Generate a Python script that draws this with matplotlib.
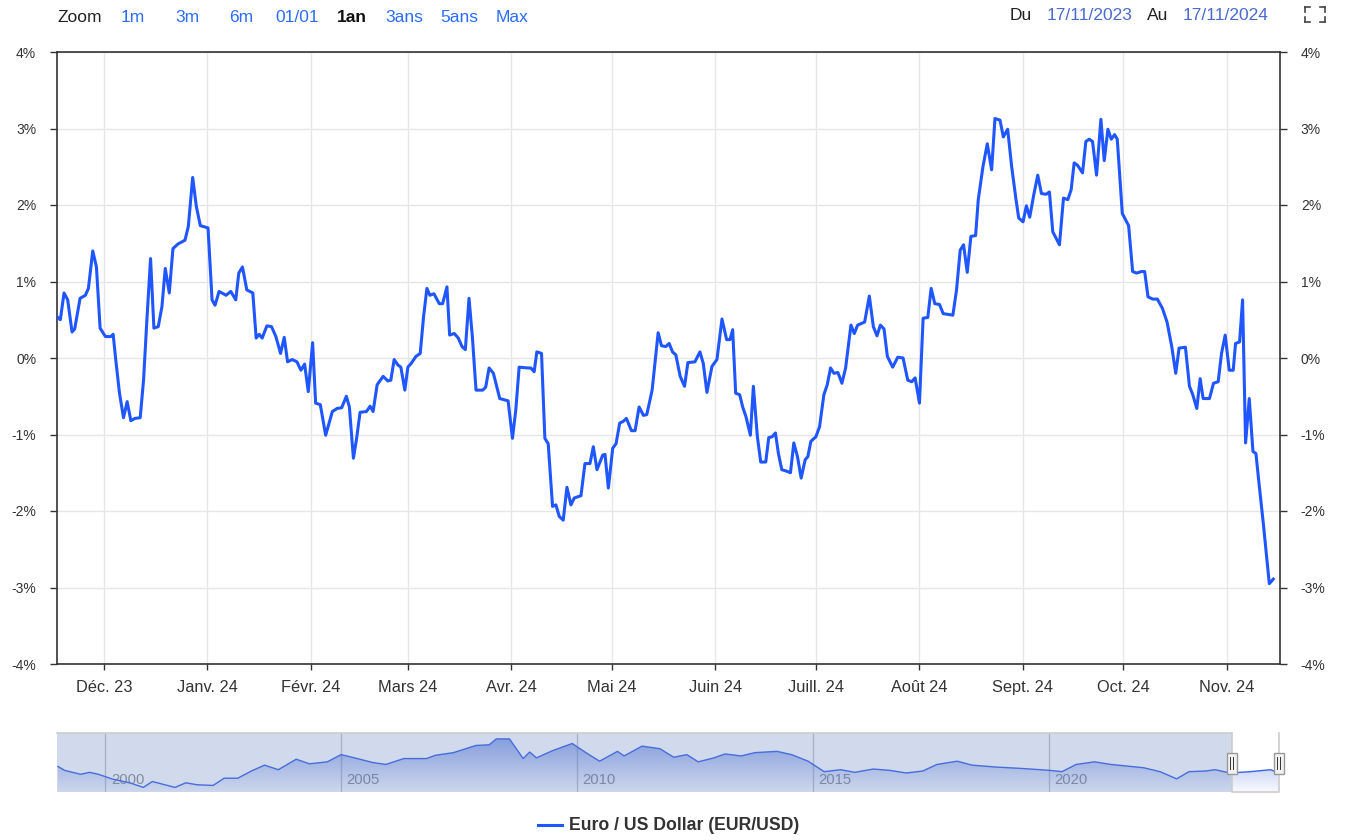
import numpy as np
import pandas as pd
import matplotlib
matplotlib.use("Agg")
import matplotlib.pyplot as plt
from matplotlib.lines import Line2D
from matplotlib.patches import Rectangle

plt.rcParams['font.family'] = ['Liberation Sans', 'DejaVu Sans']

# ---------------- data ----------------
START = "2023-11-17"
END = "2024-11-17"

# days since START, and % change of EUR/USD
days = [0.0, 1.0, 2.1, 3.2, 4.5, 5.3, 6.9, 8.5, 9.4, 10.7, 11.8, 12.9,
        14.5, 16.1, 16.8, 17.6, 18.7, 19.9, 21.0, 22.1, 23.3, 24.9, 25.9, 26.9,
        28.0, 29.0, 30.3, 31.4, 32.4, 33.6, 34.7, 36.2, 38.3, 39.3, 40.6, 41.7, 42.9,
        45.2, 46.4, 47.3, 48.5, 50.6, 52.0, 53.5, 54.4, 55.5, 56.8, 58.6, 59.6,
        60.5, 61.4, 62.8, 64.2, 65.5, 66.9, 68.0, 69.0, 70.4, 71.8, 73.0, 74.1, 75.2,
        76.5, 77.4, 78.8, 80.4, 82.4, 83.8, 85.2, 86.6, 87.5, 88.7, 89.6, 90.7,
        92.6, 93.7, 94.6, 95.8, 97.6, 99.0, 99.9, 100.9, 102.0, 102.9, 104.1,
        105.0, 106.0, 107.4, 108.7, 109.7, 110.7, 111.6, 112.8, 114.4, 115.4,
        116.7, 117.5, 118.9, 120.1, 121.2, 122.2, 123.3, 124.3, 125.4, 127.4,
        128.3, 129.3, 130.6, 132.5, 134.2, 135.0,
        136.3, 137.3, 138.3, 140.8, 141.8, 142.8, 143.6, 145.0, 146.0, 147.0,
        148.3, 149.3, 150.3, 151.5, 152.6, 153.8, 154.8, 156.8, 158.0, 159.5,
        160.5, 161.6, 163.3, 164.0, 165.0,
        166.3, 167.3, 168.4, 169.4, 170.4, 171.9, 173.0, 174.2, 175.5, 176.5,
        178.1, 179.9, 180.9, 182.2, 183.2, 184.2, 185.2, 186.5, 187.8, 188.8,
        190.9, 192.4, 193.4, 194.5, 196.0,
        197.5, 199.0, 200.4, 201.4, 202.2, 203.1, 204.3, 205.2, 206.2, 207.5,
        208.4, 209.6, 210.6, 212.1, 213.0, 214.0, 215.0, 215.9, 216.9, 218.4,
        219.5, 220.5, 221.6, 222.7, 223.9, 224.7, 225.6,
        227.1, 228.2, 229.5, 230.5, 231.5, 232.5, 233.7, 234.9, 236.0, 237.6,
        238.6, 239.6, 241.7, 243.1, 244.3, 245.4, 246.4, 247.5, 248.5, 250.1,
        251.6, 253.2, 254.6, 255.8, 256.8,
        258.1, 259.2, 260.6, 261.6, 262.7, 264.1, 265.2, 268.1, 269.2, 270.3,
        271.3, 272.4, 273.5, 274.9, 275.7, 277.1, 278.4, 279.7, 280.7, 282.2,
        283.2, 284.5, 285.7, 287.0, 287.8,
        289.1, 290.1, 291.1, 292.3, 293.5, 294.6, 296.0, 297.0, 298.0, 300.0,
        301.2, 302.5, 303.5, 304.4, 305.4, 306.9, 307.9, 308.9, 309.9, 311.1,
        312.4, 313.4, 314.5, 315.5, 316.5, 317.3, 318.8,
        320.7, 321.9, 323.1, 324.5, 325.5, 326.5, 327.9, 329.3, 330.8, 332.2,
        333.6, 334.8, 335.8, 337.7, 338.9, 339.9, 341.1, 342.1, 343.0, 344.9,
        346.1, 347.5, 348.5, 349.6,
        350.8, 352.0, 352.7, 353.9, 354.8, 355.7, 356.8, 357.9, 358.8, 359.6,
        361.0, 362.8, 364.0]

pct = [0.54, 0.50, 0.85, 0.76, 0.34, 0.38, 0.78, 0.82, 0.91, 1.40, 1.19, 0.39,
       0.28, 0.28, 0.31, -0.03, -0.46, -0.78, -0.57, -0.82, -0.79, -0.78, -0.29, 0.50,
       1.30, 0.39, 0.41, 0.67, 1.17, 0.85, 1.43, 1.49, 1.54, 1.72, 2.36, 1.98, 1.73,
       1.70, 0.76, 0.69, 0.87, 0.82, 0.87, 0.76, 1.11, 1.19, 0.89, 0.85, 0.26,
       0.31, 0.26, 0.42, 0.41, 0.28, 0.06, 0.27, -0.05, -0.02, -0.05, -0.16, -0.08, -0.44,
       0.20, -0.59, -0.61, -1.01, -0.70, -0.66, -0.65, -0.50, -0.64, -1.31, -1.07, -0.71,
       -0.70, -0.63, -0.70, -0.35, -0.24, -0.30, -0.29, -0.02, -0.09, -0.12, -0.42,
       -0.12, -0.07, 0.02, 0.06, 0.54, 0.91, 0.82, 0.84, 0.71, 0.71,
       0.93, 0.30, 0.32, 0.26, 0.15, 0.11, 0.78, 0.28, -0.42, -0.42,
       -0.38, -0.13, -0.20, -0.53, -0.55, -0.56,
       -1.05, -0.68, -0.12, -0.13, -0.13, -0.18, 0.08, 0.06, -1.05, -1.12,
       -1.94, -1.92, -2.07, -2.12, -1.69, -1.92, -1.83, -1.80, -1.38, -1.38,
       -1.16, -1.46, -1.27, -1.26, -1.70,
       -1.18, -1.12, -0.85, -0.83, -0.79, -0.95, -0.95, -0.64, -0.75, -0.74,
       -0.42, 0.33, 0.16, 0.15, 0.19, 0.08, 0.04, -0.24, -0.37, -0.06,
       -0.05, 0.08, -0.07, -0.45, -0.11,
       -0.02, 0.51, 0.24, 0.24, 0.37, -0.46, -0.48, -0.64, -0.77, -1.01,
       -0.37, -1.03, -1.36, -1.36, -1.04, -1.03, -0.98, -1.25, -1.46, -1.48,
       -1.50, -1.11, -1.29, -1.57, -1.33, -1.29, -1.09,
       -1.03, -0.90, -0.48, -0.35, -0.13, -0.20, -0.19, -0.33, -0.13, 0.43,
       0.32, 0.43, 0.47, 0.81, 0.41, 0.29, 0.43, 0.38, 0.02, -0.12,
       0.01, 0.00, -0.29, -0.31, -0.26,
       -0.59, 0.52, 0.53, 0.91, 0.71, 0.70, 0.58, 0.56, 0.89, 1.41,
       1.48, 1.12, 1.59, 1.60, 2.07, 2.50, 2.80, 2.46, 3.13, 3.11,
       2.89, 2.99, 2.50, 2.07, 1.83,
       1.78, 1.99, 1.84, 2.13, 2.39, 2.15, 2.14, 2.17, 1.65, 1.48,
       2.09, 2.07, 2.20, 2.55, 2.52, 2.42, 2.83, 2.86, 2.83, 2.39,
       3.12, 2.58, 2.99, 2.86, 2.92, 2.86, 1.89,
       1.73, 1.13, 1.11, 1.13, 1.13, 0.80, 0.77, 0.77, 0.65, 0.47,
       0.15, -0.20, 0.13, 0.14, -0.37, -0.48, -0.66, -0.27, -0.53, -0.53,
       -0.33, -0.31, 0.06, 0.30,
       -0.16, -0.16, 0.19, 0.21, 0.76, -1.11, -0.53, -1.22, -1.25, -1.59,
       -2.16, -2.95, -2.89]

month_labels = ["Déc. 23", "Janv. 24", "Févr. 24", "Mars 24", "Avr. 24", "Mai 24",
                "Juin 24", "Juill. 24", "Août 24", "Sept. 24", "Oct. 24", "Nov. 24"]
y_ticks = [-4, -3, -2, -1, 0, 1, 2, 3, 4]

# navigator: EUR/USD rate over the full history (decimal years)
nav_years = [1999.0, 1999.14, 1999.48, 1999.67, 1999.86, 2000.14, 2000.52, 2000.81,
             2001.0, 2001.48, 2001.71, 2001.95, 2002.29, 2002.52, 2002.81, 2003.10,
             2003.38, 2003.67, 2004.05, 2004.33, 2004.71, 2005.0, 2005.29, 2005.67,
             2005.95, 2006.33, 2006.81, 2007.0, 2007.38, 2007.86, 2008.14, 2008.29,
             2008.57, 2008.86, 2009.0, 2009.14, 2009.48, 2009.90, 2010.19, 2010.48,
             2010.86, 2011.0, 2011.38, 2011.76, 2012.05, 2012.33, 2012.57, 2012.90,
             2013.14, 2013.48, 2013.77, 2014.24, 2014.55, 2014.9, 2015.24, 2015.59,
             2015.89, 2016.28, 2016.63, 2016.98, 2017.33, 2017.63, 2018.06, 2018.37,
             2018.89, 2019.41, 2020.02, 2020.28, 2020.58, 2020.97, 2021.32, 2022.01,
             2022.36, 2022.71, 2022.97, 2023.32, 2023.53, 2023.84, 2024.27, 2024.70,
             2024.88]
nav_rate = [1.16, 1.10, 1.04, 1.07, 1.04, 0.97, 0.91, 0.84,
            0.93, 0.84, 0.91, 0.88, 0.87, 0.98, 0.98, 1.09,
            1.18, 1.11, 1.27, 1.20, 1.23, 1.34, 1.29, 1.22,
            1.19, 1.28, 1.28, 1.33, 1.37, 1.48, 1.49, 1.58,
            1.58, 1.28, 1.38, 1.29, 1.40, 1.51, 1.37, 1.24,
            1.39, 1.32, 1.47, 1.43, 1.30, 1.34, 1.23, 1.29,
            1.35, 1.32, 1.37, 1.39, 1.34, 1.24, 1.08, 1.11,
            1.07, 1.12, 1.10, 1.06, 1.09, 1.19, 1.24, 1.18,
            1.15, 1.13, 1.10, 1.08, 1.19, 1.23, 1.19, 1.14,
            1.08, 0.97, 1.08, 1.09, 1.11, 1.06, 1.08, 1.11,
            1.06]
nav_year_labels = [2000, 2005, 2010, 2015, 2020]

zoom_buttons = ["1m", "3m", "6m", "01/01", "1an", "3ans", "5ans", "Max"]
selected_button = "1an"
series_name = "Euro / US Dollar (EUR/USD)"

# ---------------- figure ----------------
W, H = 1346, 840
fig = plt.figure(figsize=(W / 100, H / 100), dpi=100)


def fx(px):
    return px / W


def fy(py):
    return 1 - py / H


LINE_BLUE = "#1f56ff"
TEXT = "#333333"

ax = fig.add_axes([fx(57), fy(664), fx(1280) - fx(57), fy(52) - fy(664)])
dates = pd.Timestamp(START) + pd.to_timedelta(days, unit="D")
ax.plot(dates, pct, color=LINE_BLUE, lw=2.2, solid_joinstyle="round", zorder=3)
ax.set_xlim(pd.Timestamp(START), pd.Timestamp(END))
ax.set_ylim(-4, 4)
ax.set_yticks(y_ticks)
ax.set_yticklabels([f"{t}%" for t in y_ticks])
month_starts = pd.date_range("2023-12-01", periods=len(month_labels), freq="MS")
ax.set_xticks(month_starts)
ax.set_xticklabels(month_labels)
ax.grid(True, color="#e6e6e6", lw=1, zorder=0)
ax.set_axisbelow(True)
for s in ax.spines.values():
    s.set_color(TEXT)
    s.set_linewidth(1.2)
ax.tick_params(axis="y", left=True, right=True, labelleft=True, labelright=True,
               length=5, width=1, color=TEXT, labelsize=10, labelcolor=TEXT, pad=10)
ax.tick_params(axis="x", length=4.5, width=1, color=TEXT, labelsize=11.8,
               labelcolor=TEXT, pad=7)

# ---------------- top bar ----------------
TOP_FS = 12.5
fig.text(fx(57), fy(17), "Zoom", fontsize=TOP_FS, color="#222222", va="center", ha="left")
btn_x = [121, 175, 229, 275, 337, 385, 440, 496]
for label, bx in zip(zoom_buttons, btn_x):
    if label == selected_button:
        fig.text(fx(bx), fy(17), label, fontsize=TOP_FS, color="#111111",
                 fontweight="bold", va="center", ha="left")
    else:
        fig.text(fx(bx), fy(17), label, fontsize=TOP_FS, color="#2b6cff",
                 va="center", ha="left")

d0 = pd.Timestamp(START).strftime("%d/%m/%Y")
d1 = pd.Timestamp(END).strftime("%d/%m/%Y")
fig.text(fx(1010), fy(16), "Du", fontsize=TOP_FS, color="#222222", va="center", ha="left")
fig.text(fx(1047), fy(16), d0, fontsize=TOP_FS, color="#4a6ad0", va="center", ha="left")
fig.text(fx(1147), fy(16), "Au", fontsize=TOP_FS, color="#222222", va="center", ha="left")
fig.text(fx(1183), fy(16), d1, fontsize=TOP_FS, color="#4a6ad0", va="center", ha="left")

# fullscreen icon (four corner brackets)
x0, x1, y0, y1, arm = 1305, 1325, 7, 22, 5
for (cx, cy, dx, dy) in [(x0, y0, 1, 1), (x1, y0, -1, 1), (x0, y1, 1, -1), (x1, y1, -1, -1)]:
    fig.add_artist(Line2D([fx(cx), fx(cx)], [fy(cy), fy(cy + dy * arm)],
                          transform=fig.transFigure, color="#444444", lw=1.2))
    fig.add_artist(Line2D([fx(cx), fx(cx + dx * arm)], [fy(cy), fy(cy)],
                          transform=fig.transFigure, color="#444444", lw=1.2))

# ---------------- navigator ----------------
nav = fig.add_axes([fx(57), fy(792), fx(1279) - fx(57), fy(733) - fy(792)])
nav_x0, nav_x1 = 1998.98, 2024.88
nav.set_xlim(nav_x0, nav_x1)
nav.set_ylim(0.77, 1.67)
for yr in nav_year_labels:
    nav.axvline(yr, color="#c8c8c8", lw=1, zorder=1)
    nav.text(yr + 0.12, 0.95, str(yr), color="#8f8f8f", fontsize=10.7,
             ha="left", va="center", zorder=2)

poly = nav.fill_between(nav_years, nav_rate, 0.77, color="none", lw=0)
grad = np.zeros((100, 2, 4))
col = np.array([0.23, 0.38, 0.85])
alphas = np.linspace(0.55, 0.03, 100)
grad[:, :, :3] = col
grad[:, :, 3] = alphas[:, None]
im = nav.imshow(grad, extent=[nav_x0, nav_x1, 0.77, 1.60], origin="upper",
                aspect="auto", zorder=2)
im.set_clip_path(poly.get_paths()[0], transform=nav.transData)
nav.plot(nav_years, nav_rate, color="#3a63e8", lw=1.0, zorder=3)

sel0 = pd.Timestamp(START)
sel1 = pd.Timestamp(END)
sel0_y = sel0.year + (sel0.dayofyear - 1) / 366
sel1_y = sel1.year + (sel1.dayofyear - 1) / 366
nav.axvspan(nav_x0, sel0_y, color=(102 / 255, 133 / 255, 194 / 255), alpha=0.3,
            lw=0, zorder=4)
nav.set_xticks([])
nav.set_yticks([])
for s in nav.spines.values():
    s.set_visible(False)
# outline
nav.plot([nav_x0, sel0_y], [1.67, 1.67], color="#cccccc", lw=1.2, zorder=5, clip_on=False)
nav.plot([sel0_y, sel0_y, sel1_y, sel1_y], [1.67, 0.77, 0.77, 1.67],
         color="#cccccc", lw=1.2, zorder=5, clip_on=False)

# handles
for hx in [sel0_y, sel1_y]:
    hw = 0.21
    nav.add_patch(Rectangle((hx - hw / 2, 1.05), hw, 0.32, facecolor="#f2f2f2",
                            edgecolor="#999999", lw=1, zorder=6, clip_on=False))
    for off in (-0.03, 0.03):
        nav.plot([hx + off, hx + off], [1.12, 1.30], color="#333333", lw=0.7,
                 zorder=7, clip_on=False)

# ---------------- legend ----------------
fig.add_artist(Line2D([fx(538), fx(562)], [fy(825), fy(825)], transform=fig.transFigure,
                      color=LINE_BLUE, lw=2.2))
fig.text(fx(569), fy(826), series_name, fontsize=12.7, fontweight="bold", color=TEXT,
         va="center", ha="left")

fig.savefig("out.png", dpi=100)
